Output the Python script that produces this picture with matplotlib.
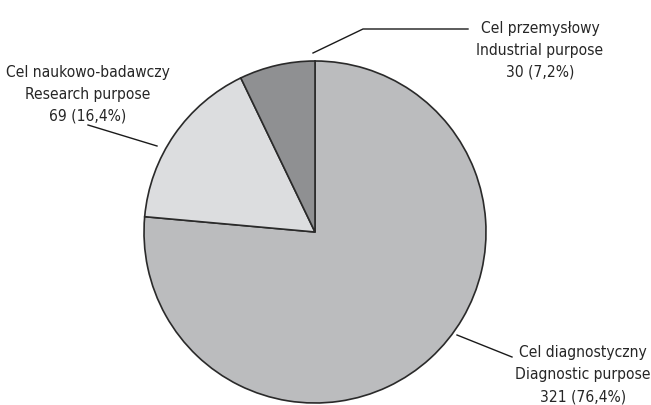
import matplotlib
matplotlib.use('Agg')
import matplotlib.pyplot as plt

# Purpose of use, counts and shares
labels_pl = ['Cel diagnostyczny', 'Cel naukowo-badawczy', 'Cel przemysłowy']
labels_en = ['Diagnostic purpose', 'Research purpose', 'Industrial purpose']
counts = [321, 69, 30]
shares = ['76,4%', '16,4%', '7,2%']

COLORS = ['#bbbcbe', '#dcdddf', '#8f9092']

W, H = 651, 405
fig = plt.figure(figsize=(W / 100, H / 100), dpi=100)
ax = fig.add_axes([0, 0, 1, 1])

cx, cy, r = 315, H - 232, 171
ax.pie(counts, colors=COLORS, startangle=90, counterclock=False,
       center=(cx, cy), radius=r, frame=True,
       wedgeprops=dict(edgecolor='#2a2a2a', linewidth=1.2))
ax.set_xlim(0, W)
ax.set_ylim(0, H)
ax.set_aspect('equal')
ax.axis('off')

# Leader lines (pixel coords, y measured from the top)
leaders = [
    [(457, 335), (512, 357)],
    [(157, 146), (88, 125)],
    [(313, 53), (363, 29), (468, 29)],
]
for pts in leaders:
    xs = [p[0] for p in pts]
    ys = [H - p[1] for p in pts]
    ax.plot(xs, ys, color='#1a1a1a', linewidth=1.0)

# Label blocks: centre x, first baseline y, line step
label_pos = [(583, 357, 22.5), (88, 76.5, 22), (540, 32.5, 22)]
for (x, y, step), pl, en, n, s in zip(label_pos, labels_pl, labels_en, counts, shares):
    for i, line in enumerate([pl, en, f'{n} ({s})']):
        ax.text(x, H - (y + step * i), line, ha='center', va='baseline',
                fontsize=11.2, family='DejaVu Sans', fontstretch='condensed',
                color='#262626')

fig.savefig('out.png', dpi=100)
